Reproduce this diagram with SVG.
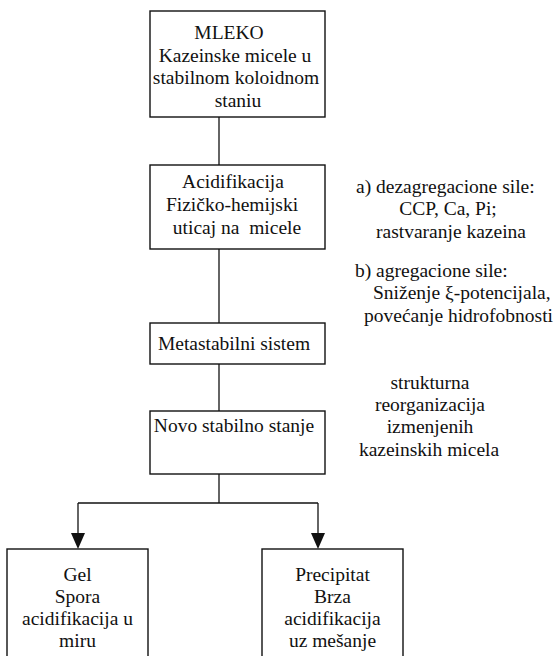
<svg xmlns="http://www.w3.org/2000/svg" width="560" height="656" viewBox="0 0 560 656">
<defs>
<style>
.box{fill:#fff;stroke:#111;stroke-width:1.4}
.t{font-family:"Liberation Serif","Times New Roman",serif;font-size:19.5px;fill:#111;text-anchor:middle}
.s{text-anchor:start}
.e{text-anchor:end}
.c{fill:none;stroke:#111;stroke-width:1.3}
.ah{fill:#111}
</style>
</defs>
<rect width="560" height="656" fill="#fff"/>
<g id="connectors">
<line class="c" x1="219" y1="117" x2="219" y2="165"/>
<line class="c" x1="219" y1="249" x2="219" y2="323"/>
<line class="c" x1="219" y1="364" x2="219" y2="411"/>
<line class="c" x1="219" y1="474" x2="219" y2="503"/>
<line class="c" x1="78" y1="503" x2="318" y2="503"/>
<path class="c" d="M78,503 V533"/>
<path class="c" d="M318,503 V533"/>
<path class="ah" d="M71,533 L85,533 L78,549 Z"/>
<path class="ah" d="M311,533 L325,533 L318,549 Z"/>
</g>
<g id="mleko">
<rect class="box" x="150" y="11" width="175" height="106"/>
<text class="t" x="229" y="39">MLEKO</text>
<text class="t" x="235" y="62">Kazeinske micele u</text>
<text class="t" x="236" y="84">stabilnom koloidnom</text>
<text class="t" x="238" y="107">staniu</text>
</g>
<g id="acidifikacija">
<rect class="box" x="150" y="165" width="175" height="84"/>
<text class="t" x="233" y="188">Acidifikacija</text>
<text class="t" x="232" y="211">Fizičko-hemijski</text>
<text class="t" x="237" y="234" xml:space="preserve">uticaj na  micele</text>
</g>
<g id="metastabilni">
<rect class="box" x="150" y="323" width="175" height="41"/>
<text class="t" x="234" y="350">Metastabilni sistem</text>
</g>
<g id="novo">
<rect class="box" x="150" y="411" width="175" height="63"/>
<text class="t" x="234" y="432">Novo stabilno stanje</text>
</g>
<g id="gel">
<rect class="box" x="7" y="549" width="141" height="120"/>
<text class="t" x="77.5" y="581">Gel</text>
<text class="t" x="77.5" y="603">Spora</text>
<text class="t" x="77.5" y="625">acidifikacija u</text>
<text class="t" x="77.5" y="647">miru</text>
</g>
<g id="precipitat">
<rect class="box" x="262" y="549" width="141" height="120"/>
<text class="t" x="332.5" y="581">Precipitat</text>
<text class="t" x="332.5" y="603">Brza</text>
<text class="t" x="332.5" y="625">acidifikacija</text>
<text class="t" x="332.5" y="647">uz mešanje</text>
</g>
<g id="sile">
<text class="t s" x="356" y="193">a) dezagregacione sile:</text>
<text class="t" x="448" y="215">CCP, Ca, Pi;</text>
<text class="t" x="451" y="238">rastvaranje kazeina</text>
<text class="t s" x="355" y="277">b) agregacione sile:</text>
<text class="t s" x="373" y="299">Sniženje ξ-potencijala,</text>
<text class="t s" x="364" y="322">povećanje hidrofobnosti</text>
</g>
<g id="reorganizacija">
<text class="t" x="430" y="389">strukturna</text>
<text class="t" x="430" y="411">reorganizacija</text>
<text class="t" x="430" y="433">izmenjenih</text>
<text class="t" x="429" y="456">kazeinskih micela</text>
</g>
</svg>
